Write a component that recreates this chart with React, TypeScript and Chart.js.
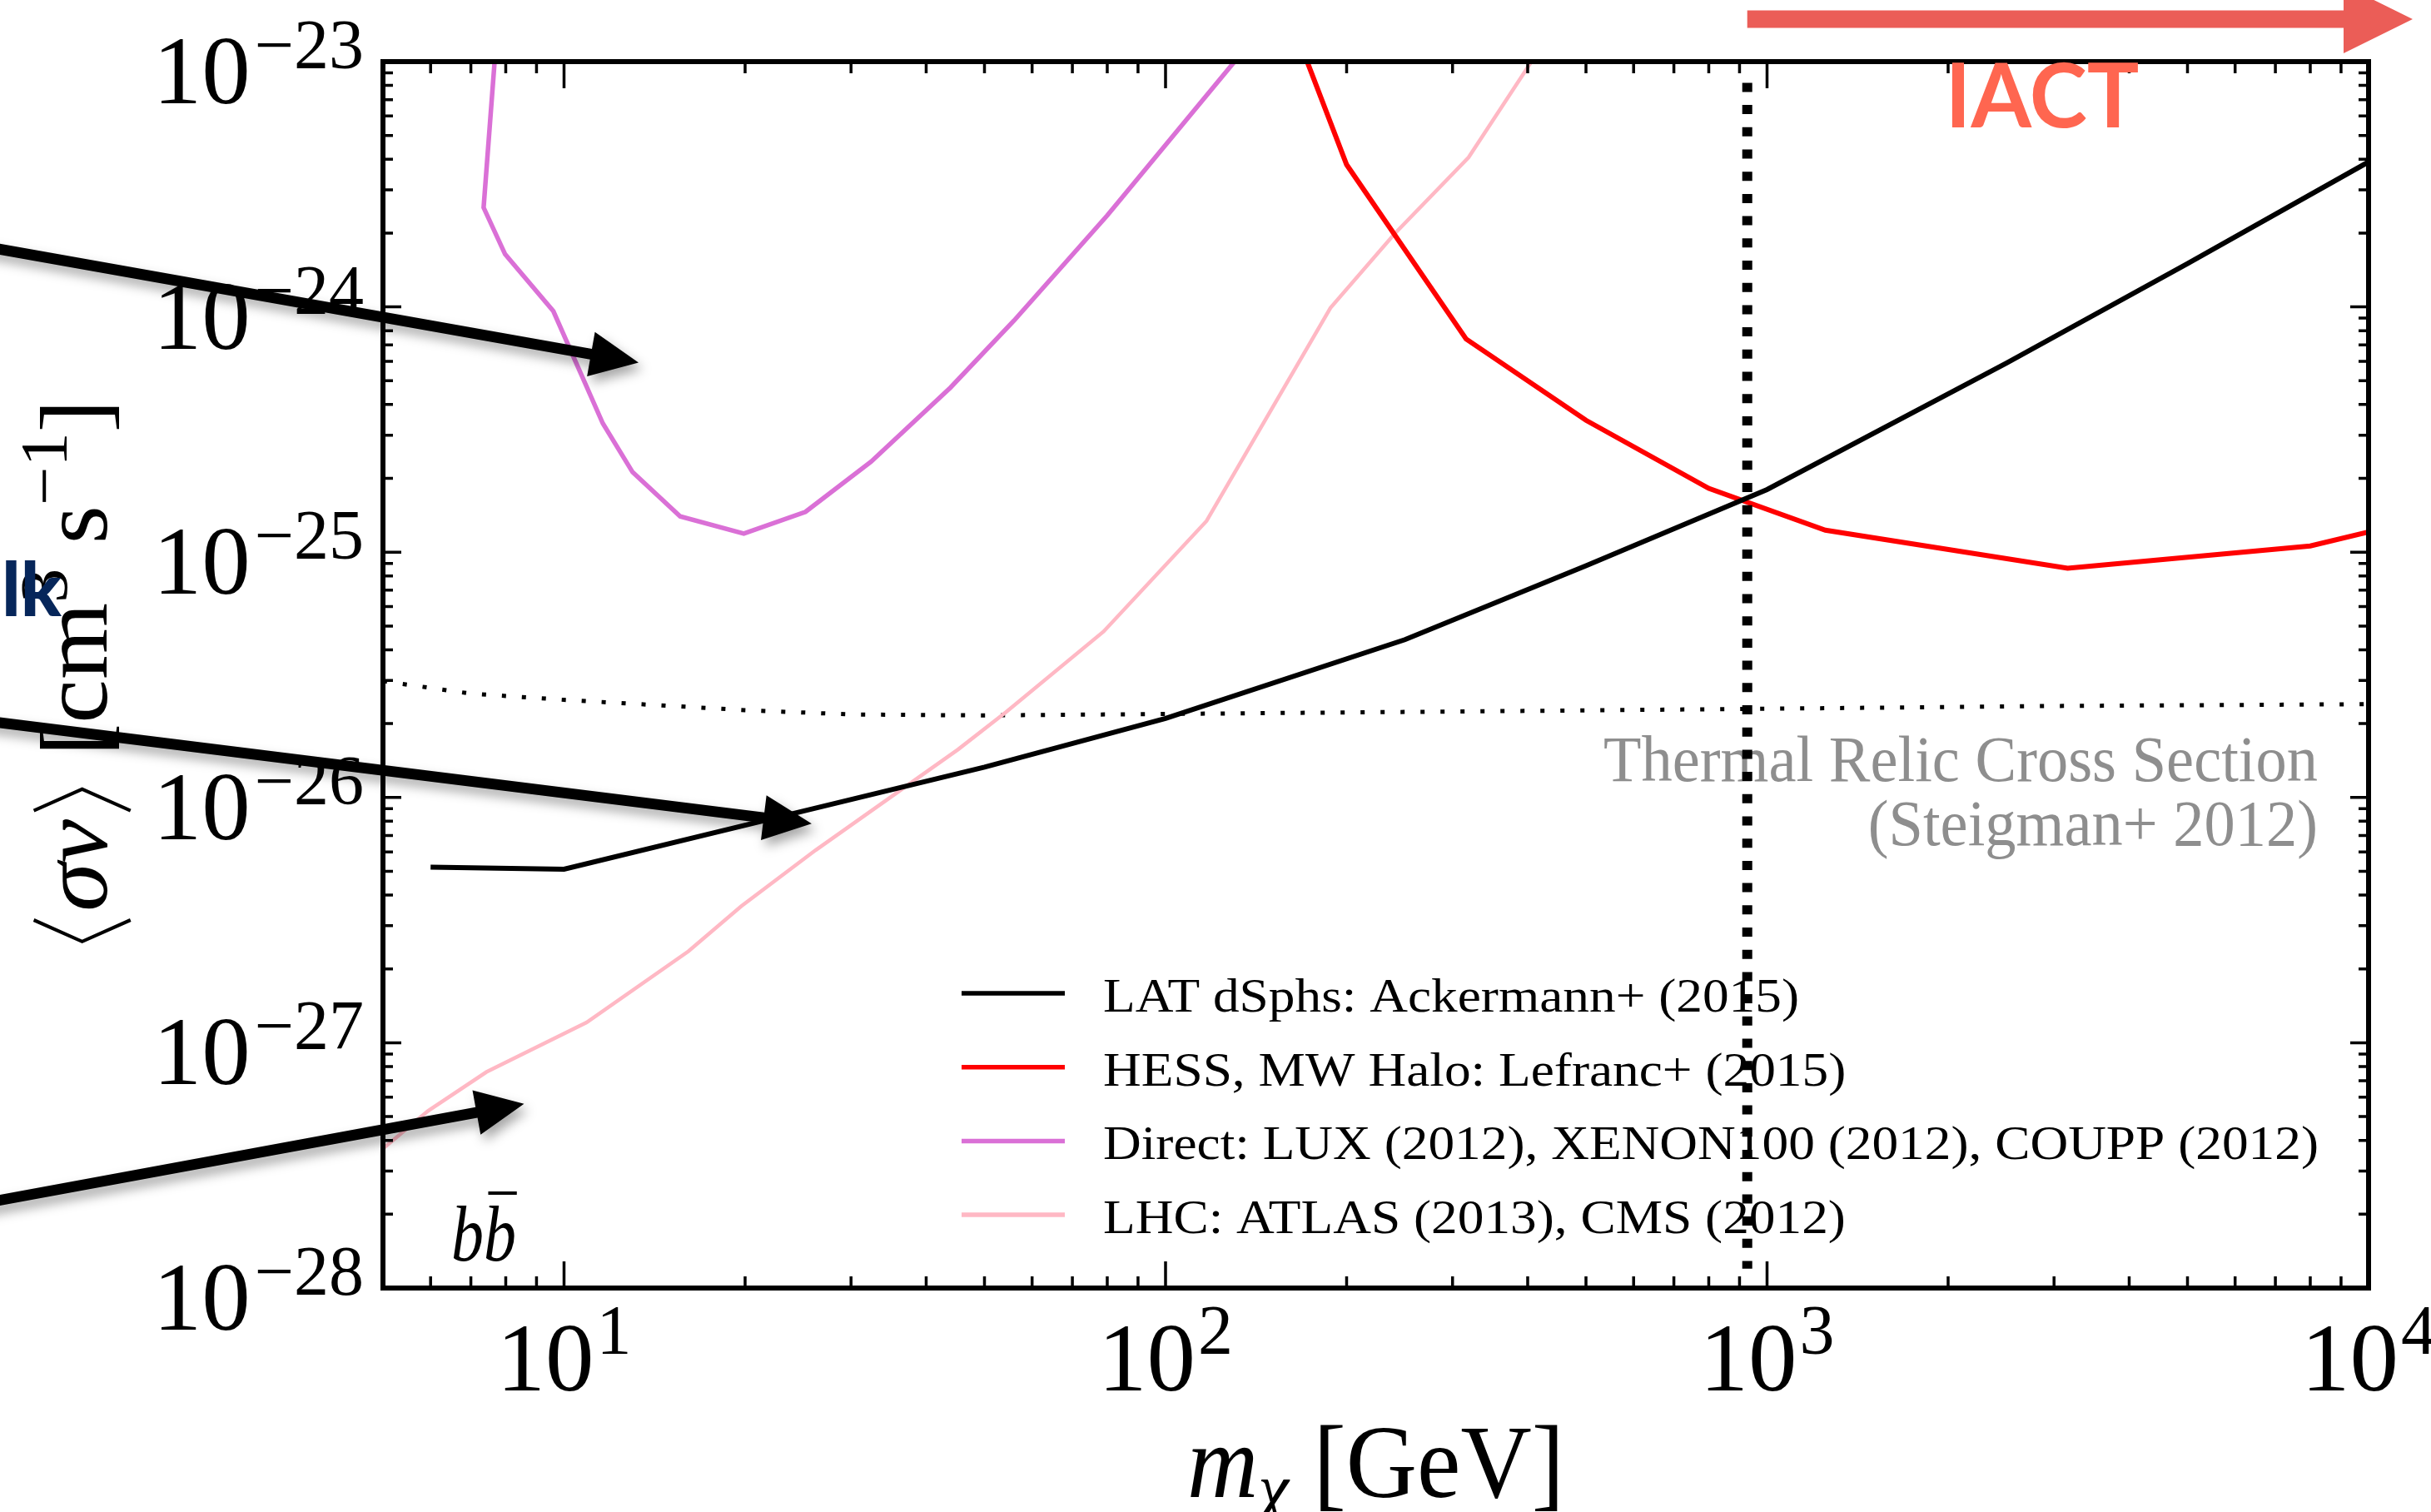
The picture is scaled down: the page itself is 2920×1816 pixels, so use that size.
import React, { useEffect, useRef } from 'react';
import { Chart, registerables } from 'chart.js';

Chart.register(...registerables);

const W = 2920;
const H = 1816;

// ---- axis ranges ----
const X_MIN = 5;
const X_MAX = 1e4;
const Y_MIN = 1e-28;
const Y_MAX = 1e-23;
const X_TICK_EXP = [1, 2, 3, 4];
const Y_TICK_EXP = [-23, -24, -25, -26, -27, -28];

// ---- series (mass in GeV, <sigma v> in cm^3 s^-1) ----
const LAT_MASS = [6, 10, 25, 50, 100, 250, 500, 1000, 2500, 5000, 10000];
const LAT_SIGV = [5.2e-27, 5.1e-27, 8.8e-27, 1.33e-26, 2.1e-26, 4.4e-26, 8.8e-26, 1.8e-25, 5.9e-25, 1.5e-24, 3.9e-24];

const HESS_MASS = [150, 200, 316, 500, 800, 1250, 3160, 8000, 10000];
const HESS_SIGV = [2.4e-23, 3.8e-24, 7.4e-25, 3.45e-25, 1.82e-25, 1.23e-25, 8.6e-26, 1.06e-25, 1.21e-25];

const DIRECT_MASS = [8, 7.35, 7.98, 9.6, 11.6, 13, 15.6, 19.9, 25.2, 32.4, 43.9, 56, 80, 150];
const DIRECT_SIGV = [4e-23, 2.54e-24, 1.64e-24, 9.6e-25, 3.35e-25, 2.12e-25, 1.4e-25, 1.19e-25, 1.46e-25, 2.34e-25, 4.69e-25, 8.8e-25, 2.36e-24, 1.52e-23];

const LHC_MASS = [5, 5.94, 7.43, 10.9, 16.1, 19.7, 26.2, 45.2, 54.3, 78.9, 117, 188, 240, 319, 500];
const LHC_SIGV = [3.7e-28, 5.27e-28, 7.6e-28, 1.21e-27, 2.36e-27, 3.6e-27, 6.1e-27, 1.57e-26, 2.23e-26, 4.75e-26, 1.34e-25, 9.9e-25, 1.98e-24, 4.07e-24, 2.18e-23];

const THERMAL_MASS = [5, 7, 10, 20, 30, 50, 100, 300, 1000, 3000, 10000];
const THERMAL_SIGV = [2.98e-26, 2.65e-26, 2.5e-26, 2.27e-26, 2.18e-26, 2.16e-26, 2.19e-26, 2.24e-26, 2.3e-26, 2.36e-26, 2.4e-26];

const VLINE_MASS = [927, 927];
const VLINE_SIGV = [8.2e-24, 1.2e-28];

// ---- slide annotations (data coordinates) ----
const ARROW_TAIL_MASS = [1.076, 1.076, 1.076];
const ARROW_TAIL_SIGV = [1.77e-24, 2.06e-26, 2.21e-28];
const ARROW_TIP_MASS = [13.3, 25.8, 8.58];
const ARROW_TIP_SIGV = [5.93e-25, 7.82e-27, 5.64e-28];
const IACT_ARROW_MASS = [927, 11840];

const LEGEND_LABELS = [
  'LAT dSphs: Ackermann+ (2015)',
  'HESS, MW Halo: Lefranc+ (2015)',
  'Direct: LUX (2012), XENON100 (2012), COUPP (2012)',
  'LHC: ATLAS (2013), CMS (2012)',
];
const LEGEND_COLORS = ['#000000', '#ff0000', '#da70d6', '#ffb8c4'];
const THERMAL_TEXT = ['Thermal Relic Cross Section', '(Steigman+ 2012)'];

const SERIF = '"Liberation Serif", "Times New Roman", serif';
const SANS = 'Lato, "Open Sans", sans-serif';

type Run = { t?: string; font?: string; dy?: number; kind?: 'langle' | 'rangle' | 'space'; w?: number; size?: number };

function runWidth(ctx: CanvasRenderingContext2D, r: Run): number {
  if (r.kind) return r.w || 0;
  ctx.font = r.font || '';
  return ctx.measureText(r.t || '').width;
}

function drawRuns(
  ctx: CanvasRenderingContext2D,
  runs: Run[],
  x: number,
  y: number,
  align: 'left' | 'center' | 'right',
  target?: number,
) {
  const widths = runs.map((r) => runWidth(ctx, r));
  const total = widths.reduce((a, b) => a + b, 0);
  const sx = target ? target / total : 1;
  const tw = total * sx;
  const x0 = align === 'left' ? x : align === 'center' ? x - tw / 2 : x - tw;
  ctx.save();
  ctx.translate(x0, y);
  ctx.scale(sx, 1);
  ctx.textAlign = 'left';
  ctx.textBaseline = 'alphabetic';
  let cx = 0;
  runs.forEach((r, i) => {
    if (r.kind === 'langle' || r.kind === 'rangle') {
      const s = r.size || 100;
      const w = widths[i];
      const top = -0.76 * s;
      const bot = 0.25 * s;
      const mid = (top + bot) / 2;
      ctx.beginPath();
      if (r.kind === 'langle') {
        ctx.moveTo(cx + w * 0.78, top);
        ctx.lineTo(cx + w * 0.22, mid);
        ctx.lineTo(cx + w * 0.78, bot);
      } else {
        ctx.moveTo(cx + w * 0.22, top);
        ctx.lineTo(cx + w * 0.78, mid);
        ctx.lineTo(cx + w * 0.22, bot);
      }
      ctx.lineWidth = 0.035 * s;
      ctx.strokeStyle = ctx.fillStyle as string;
      ctx.stroke();
    } else if (!r.kind) {
      ctx.font = r.font || '';
      ctx.fillText(r.t || '', cx, r.dy || 0);
    }
    cx += widths[i];
  });
  ctx.restore();
}

function polyArrow(
  ctx: CanvasRenderingContext2D,
  x1: number,
  y1: number,
  x2: number,
  y2: number,
  w: number,
  hl: number,
  hw: number,
) {
  const dx = x2 - x1;
  const dy = y2 - y1;
  const L = Math.hypot(dx, dy);
  const ux = dx / L;
  const uy = dy / L;
  const nx = -uy;
  const ny = ux;
  const bx = x2 - ux * hl;
  const by = y2 - uy * hl;
  ctx.beginPath();
  ctx.moveTo(x1 + (nx * w) / 2, y1 + (ny * w) / 2);
  ctx.lineTo(bx + (nx * w) / 2, by + (ny * w) / 2);
  ctx.lineTo(bx + (nx * hw) / 2, by + (ny * hw) / 2);
  ctx.lineTo(x2, y2);
  ctx.lineTo(bx - (nx * hw) / 2, by - (ny * hw) / 2);
  ctx.lineTo(bx - (nx * w) / 2, by - (ny * w) / 2);
  ctx.lineTo(x1 - (nx * w) / 2, y1 - (ny * w) / 2);
  ctx.closePath();
  ctx.fill();
}

const pts = (xs: number[], ys: number[]) => xs.map((x, i) => ({ x, y: ys[i] }));

const overlayPlugin = {
  id: 'slideOverlay',
  beforeDraw(chart: any) {
    const ctx = chart.ctx as CanvasRenderingContext2D;
    ctx.save();
    ctx.fillStyle = '#ffffff';
    ctx.fillRect(0, 0, chart.width, chart.height);
    ctx.restore();
  },
  beforeDatasetsDraw(chart: any) {
    const ctx = chart.ctx as CanvasRenderingContext2D;
    const a = chart.chartArea;
    ctx.save();
    // legend
    const lf = `58px ${SERIF}`;
    ctx.font = lf;
    const ls = 1460 / ctx.measureText(LEGEND_LABELS[2]).width;
    LEGEND_LABELS.forEach((lab, i) => {
      const ry = a.top + 1119 + i * 88.7;
      ctx.strokeStyle = LEGEND_COLORS[i];
      ctx.lineWidth = 5.5;
      ctx.beginPath();
      ctx.moveTo(a.left + 695, ry);
      ctx.lineTo(a.left + 819, ry);
      ctx.stroke();
      ctx.save();
      ctx.fillStyle = '#000';
      ctx.translate(a.left + 865, ry + 22);
      ctx.scale(ls, 1);
      ctx.font = lf;
      ctx.textAlign = 'left';
      ctx.textBaseline = 'alphabetic';
      ctx.fillText(lab, 0, 0);
      ctx.restore();
    });
    // thermal relic text
    const tf = `78px ${SERIF}`;
    ctx.font = tf;
    const ts = 858 / ctx.measureText(THERMAL_TEXT[0]).width;
    ctx.fillStyle = '#8e8e8e';
    THERMAL_TEXT.forEach((t, i) => {
      ctx.save();
      ctx.translate(a.right - 61, a.top + 864 + i * 77);
      ctx.scale(ts, 1);
      ctx.font = tf;
      ctx.textAlign = 'right';
      ctx.textBaseline = 'alphabetic';
      ctx.fillText(t, 0, 0);
      ctx.restore();
    });
    // b bbar
    ctx.fillStyle = '#000';
    const bf = `italic 96px ${SERIF}`;
    ctx.font = bf;
    const bw = ctx.measureText('b').width;
    const bsx = 78 / (2 * bw);
    ctx.save();
    ctx.translate(a.left + 82, a.bottom - 33);
    ctx.scale(bsx, 1);
    ctx.font = bf;
    ctx.textAlign = 'left';
    ctx.fillText('bb', 0, 0);
    ctx.strokeStyle = '#000';
    ctx.lineWidth = 4;
    ctx.beginPath();
    ctx.moveTo(bw + 0.14 * bw, -81);
    ctx.lineTo(2 * bw + 0.02 * bw, -81);
    ctx.stroke();
    ctx.restore();
    ctx.restore();
  },
  afterDatasetsDraw(chart: any) {
    const ctx = chart.ctx as CanvasRenderingContext2D;
    const a = chart.chartArea;
    const xs = chart.scales.x;
    const ys = chart.scales.y;
    ctx.save();
    // frame
    ctx.strokeStyle = '#000';
    ctx.lineWidth = 6;
    ctx.strokeRect(a.left, a.top, a.right - a.left, a.bottom - a.top);
    // ticks
    ctx.lineWidth = 3.5;
    ctx.beginPath();
    for (let d = 0; d <= 4; d++) {
      for (let k = 1; k <= 9; k++) {
        const v = k * Math.pow(10, d);
        if (v < X_MIN - 1e-9 || v > X_MAX + 1e-9) continue;
        const px = xs.getPixelForValue(v);
        const len = k === 1 ? 32 : 14;
        ctx.moveTo(px, a.bottom);
        ctx.lineTo(px, a.bottom - len);
        ctx.moveTo(px, a.top);
        ctx.lineTo(px, a.top + len);
      }
    }
    for (let d = -28; d <= -23; d++) {
      for (let k = 1; k <= 9; k++) {
        const v = k * Math.pow(10, d);
        if (v < Y_MIN * 0.999 || v > Y_MAX * 1.001) continue;
        const py = ys.getPixelForValue(v);
        const len = k === 1 ? 22 : 12;
        ctx.moveTo(a.left, py);
        ctx.lineTo(a.left + len, py);
        ctx.moveTo(a.right, py);
        ctx.lineTo(a.right - len, py);
      }
    }
    ctx.stroke();
    // tick labels
    ctx.fillStyle = '#000';
    Y_TICK_EXP.forEach((e) => {
      const py = ys.getPixelForValue(Math.pow(10, e));
      drawRuns(
        ctx,
        [
          { t: '10', font: `117px ${SERIF}` },
          { kind: 'space', w: 5 },
          { t: '\u2212' + Math.abs(e), font: `84px ${SERIF}`, dy: -42 },
        ],
        a.left - 23,
        py + 50,
        'right',
      );
    });
    X_TICK_EXP.forEach((e) => {
      const px = xs.getPixelForValue(Math.pow(10, e));
      drawRuns(
        ctx,
        [
          { t: '10', font: `117px ${SERIF}` },
          { kind: 'space', w: 3 },
          { t: String(e), font: `84px ${SERIF}`, dy: -44 },
        ],
        px,
        a.bottom + 123,
        'center',
      );
    });
    // axis titles
    drawRuns(
      ctx,
      [
        { t: 'm', font: `italic 125px ${SERIF}` },
        { t: '\u03c7', font: `italic 88px ${SERIF}`, dy: 20 },
        { t: ' [GeV]', font: `125px ${SERIF}` },
      ],
      (a.left + a.right) / 2,
      a.bottom + 251,
      'center',
      453,
    );
    ctx.save();
    ctx.translate(a.left - 332, (a.top + a.bottom) / 2);
    ctx.rotate(-Math.PI / 2);
    drawRuns(
      ctx,
      [
        { kind: 'langle', w: 0.39 * 115, size: 115 },
        { t: '\u03c3v', font: `italic 115px ${SERIF}` },
        { kind: 'rangle', w: 0.39 * 115, size: 115 },
        { t: ' [cm', font: `115px ${SERIF}` },
        { t: '3', font: `80px ${SERIF}`, dy: -48 },
        { t: ' s', font: `115px ${SERIF}` },
        { t: '\u22121', font: `80px ${SERIF}`, dy: -48 },
        { t: ']', font: `115px ${SERIF}` },
      ],
      0,
      0,
      'center',
      661,
    );
    ctx.restore();

    // slide overlays: cropped word, IACT arrow & text
    ctx.fillStyle = '#06265a';
    ctx.font = `900 90px ${SANS}`;
    ctx.textAlign = 'left';
    ctx.textBaseline = 'alphabetic';
    ctx.fillText('lk', 2, 740);

    ctx.fillStyle = '#eb5d57';
    polyArrow(
      ctx,
      xs.getPixelForValue(IACT_ARROW_MASS[0]),
      a.top - 51,
      xs.getPixelForValue(IACT_ARROW_MASS[1]),
      a.top - 51,
      21,
      83,
      82,
    );
    ctx.fillStyle = '#ff6650';
    const iF = `bold 108px ${SANS}`;
    ctx.font = iF;
    const iS = 233 / ctx.measureText('IACT').width;
    ctx.save();
    ctx.translate(a.left + 1993, a.top + 79);
    ctx.scale(iS, 1);
    ctx.font = iF;
    ctx.textAlign = 'center';
    ctx.fillText('IACT', 0, 0);
    ctx.restore();

    // black pointer arrows with soft shadow
    ctx.fillStyle = '#000';
    ctx.shadowColor = 'rgba(0,0,0,0.35)';
    ctx.shadowBlur = 14;
    ctx.shadowOffsetX = 5;
    ctx.shadowOffsetY = 8;
    ARROW_TIP_MASS.forEach((m, i) => {
      polyArrow(
        ctx,
        xs.getPixelForValue(ARROW_TAIL_MASS[i]),
        ys.getPixelForValue(ARROW_TAIL_SIGV[i]),
        xs.getPixelForValue(m),
        ys.getPixelForValue(ARROW_TIP_SIGV[i]),
        13,
        58,
        54,
      );
    });
    ctx.restore();
  },
};

export default function App() {
  const ref = useRef<HTMLCanvasElement | null>(null);

  useEffect(() => {
    let chart: Chart | null = null;
    let cancelled = false;
    const fontsToLoad = [
      `117px "Liberation Serif"`,
      `italic 117px "Liberation Serif"`,
      `bold 100px Lato`,
      `900 90px Lato`,
    ];
    const ready = (document as any).fonts
      ? Promise.all(fontsToLoad.map((f) => (document as any).fonts.load(f))).catch(() => null)
      : Promise.resolve(null);
    ready.then(() => {
      if (cancelled || !ref.current) return;
      const line = (label: string, xsArr: number[], ysArr: number[], color: string, width: number, order: number, dash?: number[]) => ({
        label,
        data: pts(xsArr, ysArr),
        borderColor: color,
        backgroundColor: color,
        borderWidth: width,
        borderDash: dash || [],
        pointRadius: 0,
        tension: 0,
        fill: false,
        clip: 0,
        order,
      });
      chart = new Chart(ref.current, {
        type: 'line',
        data: {
          datasets: [
            line(LEGEND_LABELS[0], LAT_MASS, LAT_SIGV, LEGEND_COLORS[0], 6, 1),
            line(LEGEND_LABELS[1], HESS_MASS, HESS_SIGV, LEGEND_COLORS[1], 6, 2),
            line(LEGEND_LABELS[2], DIRECT_MASS, DIRECT_SIGV, LEGEND_COLORS[2], 5.5, 3),
            line(LEGEND_LABELS[3], LHC_MASS, LHC_SIGV, LEGEND_COLORS[3], 4.5, 4),
            line('Thermal Relic Cross Section', THERMAL_MASS, THERMAL_SIGV, '#000000', 5, 5, [5, 19]),
            { ...line('IACT threshold', VLINE_MASS, VLINE_SIGV, '#000000', 12, 0, [11, 15.7]), clip: false },
          ] as any,
        },
        options: {
          animation: false,
          responsive: false,
          devicePixelRatio: 1,
          events: [],
          layout: { padding: { top: 74, right: 75, left: 0, bottom: 0 } },
          plugins: {
            legend: { display: false },
            tooltip: { enabled: false },
          },
          scales: {
            x: {
              type: 'logarithmic',
              min: X_MIN,
              max: X_MAX,
              grid: { display: false },
              border: { display: false },
              ticks: { display: false },
              afterFit: (s: any) => {
                s.height = H - 1547;
              },
            },
            y: {
              type: 'logarithmic',
              min: Y_MIN,
              max: Y_MAX,
              grid: { display: false },
              border: { display: false },
              ticks: { display: false },
              afterFit: (s: any) => {
                s.width = 460;
              },
            },
          },
        } as any,
        plugins: [overlayPlugin as any],
      });
    });
    return () => {
      cancelled = true;
      if (chart) chart.destroy();
    };
  }, []);

  return (
    <div style={{ position: 'fixed', left: 0, top: 0, width: W, height: H, background: '#fff' }}>
      <canvas ref={ref} width={W} height={H} style={{ width: W, height: H, display: 'block' }} />
    </div>
  );
}
